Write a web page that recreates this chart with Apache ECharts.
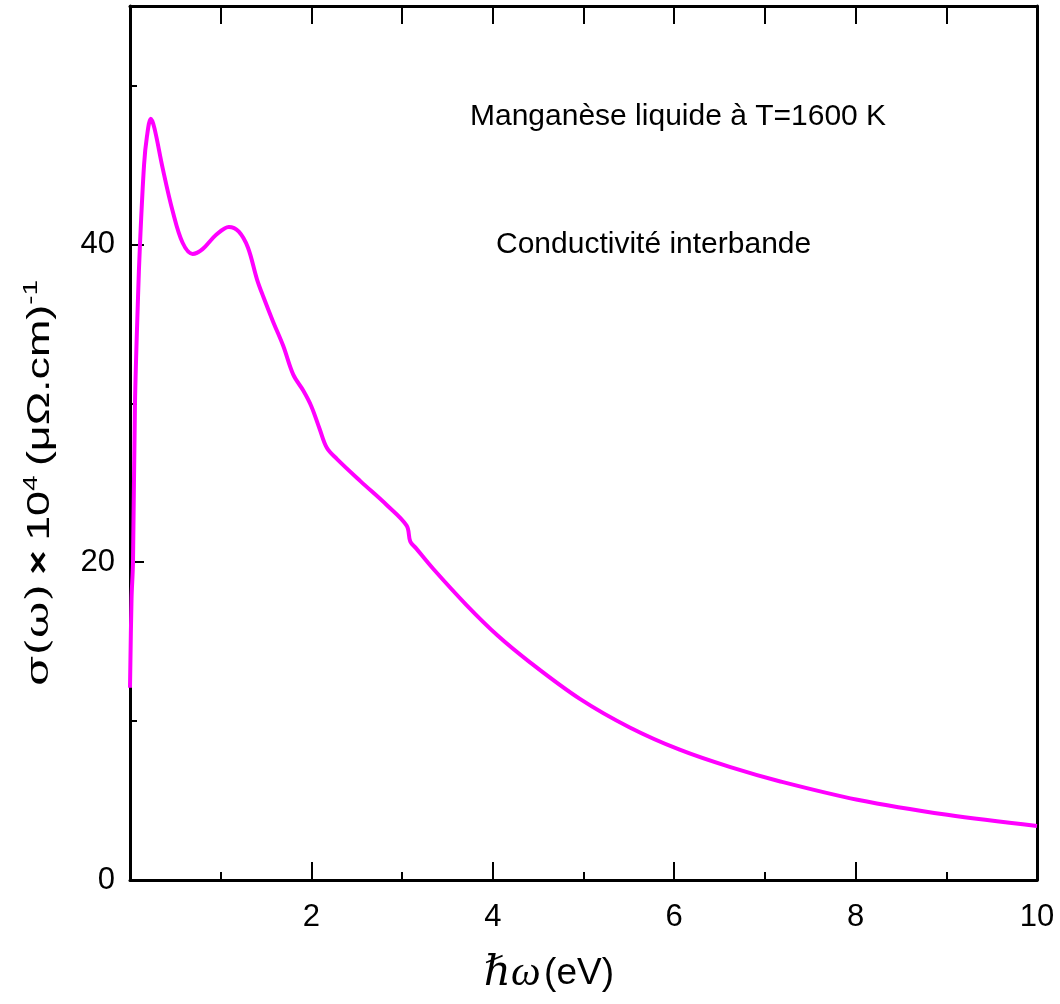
<!DOCTYPE html>
<html>
<head>
<meta charset="utf-8">
<script src="https://cdn.jsdelivr.net/npm/echarts@6/dist/echarts.min.js"></script>
<style>
  html, body { margin: 0; padding: 0; background: #fff; }
  #main { width: 1060px; height: 1004px; }
</style>
</head>
<body>
<div id="main"></div>
<script>
// hbar*omega (eV) et conductivite interbande sigma(omega) x 1e4 (muOhm.cm)^-1
var energy = [0, 0.017, 0.033, 0.055, 0.088, 0.11, 0.155, 0.187, 0.23, 0.27,
  0.36, 0.47, 0.58, 0.69, 0.8, 0.95, 1.09, 1.2, 1.3, 1.4,
  1.47, 1.58, 1.69, 1.8, 1.91, 2.0, 2.09, 2.17, 2.28, 2.54,
  2.83, 3.05, 3.09, 3.15, 3.34, 3.71, 4.05, 4.41, 4.96, 5.51,
  6.06, 6.62, 7.17, 8.02, 9.01, 10];
var sigma = [12.1, 17.7, 20, 30, 36.6, 40, 45, 46.8, 47.9, 47.3,
  44.8, 42.1, 40.1, 39.4, 39.7, 40.6, 41.1, 40.8, 39.8, 37.8,
  36.7, 35.1, 33.6, 31.8, 30.8, 29.8, 28.4, 27.2, 26.5, 25.1,
  23.6, 22.3, 21.3, 20.9, 19.6, 17.3, 15.4, 13.7, 11.4, 9.6,
  8.2, 7.1, 6.2, 5.05, 4.1, 3.4];
var xTicks = [2, 4, 6, 8, 10];
var yTicks = [0, 20, 40];
var title1 = 'Manganèse liquide à T=1600 K';
var title2 = 'Conductivité interbande';

var FONT = "'Liberation Sans', Arial, sans-serif";
var chart = echarts.init(document.getElementById('main'));

var points = energy.map(function (e, i) { return [e, sigma[i]]; });

var frame = { left: 130, right: 23, top: 6, bottom: 124 };
var lineStyle = { color: '#000', width: 3 };
var tickStyle = { color: '#000', width: 2 };
var off = { show: false };
var lineOff = { show: false, onZero: false };

chart.setOption({
  backgroundColor: '#fff',
  animation: false,
  grid: [frame, frame, frame],
  xAxis: [{
    // axe principal, graduations 2 en 2
    gridIndex: 0, type: 'value', position: 'bottom', min: 0, max: 10, interval: 2,
    axisLine: { show: true, onZero: false, lineStyle: lineStyle },
    axisTick: { show: true, inside: true, length: 18, lineStyle: tickStyle },
    axisLabel: {
      color: '#000', fontSize: 31, fontFamily: FONT, margin: 22, showMinLabel: false,
      formatter: function (v) { return xTicks.indexOf(v) >= 0 ? String(v) : ''; }
    },
    splitLine: off
  }, {
    // petites graduations
    gridIndex: 1, type: 'value', position: 'bottom', min: 0, max: 10, interval: 1,
    axisLine: lineOff,
    axisTick: { show: true, inside: true, length: 8, lineStyle: tickStyle },
    axisLabel: off, splitLine: off
  }, {
    // cadre du haut
    gridIndex: 2, type: 'value', position: 'top', min: 0, max: 10, interval: 1,
    axisLine: { show: true, onZero: false, lineStyle: lineStyle },
    axisTick: { show: true, inside: true, length: 18, lineStyle: tickStyle },
    axisLabel: off, splitLine: off
  }],
  yAxis: [{
    gridIndex: 0, type: 'value', position: 'left', min: 0, max: 55, interval: 20,
    axisLine: { show: true, onZero: false, lineStyle: lineStyle },
    axisTick: { show: true, inside: true, length: 14, lineStyle: tickStyle },
    axisLabel: {
      color: '#000', fontSize: 31, fontFamily: FONT, margin: 15, showMaxLabel: false,
      formatter: function (v) { return yTicks.indexOf(v) >= 0 ? String(v) : ''; }
    },
    splitLine: off
  }, {
    gridIndex: 1, type: 'value', position: 'left', min: 0, max: 55, interval: 10,
    axisLine: lineOff,
    axisTick: { show: true, inside: true, length: 7, lineStyle: tickStyle },
    axisLabel: off, splitLine: off
  }, {
    // cadre de droite
    gridIndex: 2, type: 'value', position: 'right', min: 0, max: 55,
    axisLine: { show: true, onZero: false, lineStyle: lineStyle },
    axisTick: off, axisLabel: off, splitLine: off
  }],
  series: [{
    type: 'line',
    xAxisIndex: 0, yAxisIndex: 0,
    data: points,
    showSymbol: false,
    smooth: 0.35,
    lineStyle: { color: '#ff00ff', width: 4 },
    z: 1
  }],
  graphic: [{
    type: 'text', left: 470, top: 102,
    style: { text: title1, fontSize: 30, fontFamily: FONT, fill: '#000' }
  }, {
    type: 'text', left: 496, top: 230,
    style: { text: title2, fontSize: 30, fontFamily: FONT, fill: '#000' }
  }, {
    type: 'text', x: 40, y: 483, rotation: Math.PI / 2, scaleX: 1.4,
    style: {
      text: '{s|σ(ω)}  {b|×}  {n|10}{sup|4}  {n|(μΩ.cm)}{sup|-1}',
      align: 'center', verticalAlign: 'middle',
      rich: {
        s: { fontSize: 32, fontFamily: "'DejaVu Serif', serif", fill: '#000' },
        b: { fontSize: 30, fontFamily: FONT, fontWeight: 'bold', fill: '#000' },
        n: { fontSize: 32, fontFamily: FONT, fill: '#000' },
        sup: { fontSize: 20, fontFamily: FONT, fill: '#000', verticalAlign: 'top', padding: [0, 0, 18, 0] }
      }
    }
  }, {
    type: 'text', x: 549, y: 974,
    style: {
      text: '{h|ℏω} {n|(eV)}',
      align: 'center', verticalAlign: 'middle',
      rich: {
        h: { fontSize: 42, fontFamily: "'Liberation Serif', 'DejaVu Serif', serif", fontStyle: 'italic', fill: '#000' },
        n: { fontSize: 37, fontFamily: FONT, fill: '#000' }
      }
    }
  }]
});
</script>
</body>
</html>
